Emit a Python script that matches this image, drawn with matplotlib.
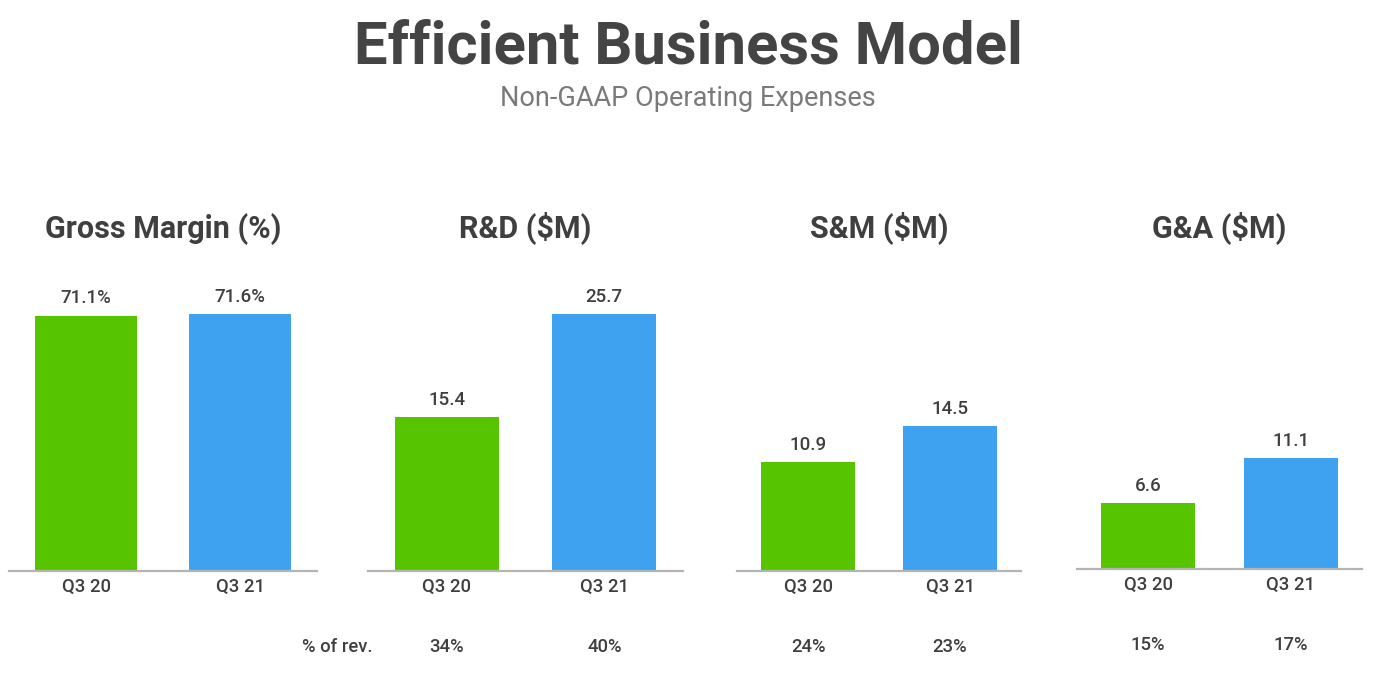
import numpy as np
import matplotlib.pyplot as plt

plt.rcParams['font.family'] = ['Roboto', 'DejaVu Sans']

#%% data

quarters = ['Q3 20', 'Q3 21']
panel_titles = ['Gross Margin (%)', 'R&D ($M)', 'S&M ($M)', 'G&A ($M)']
gross_margin = [71.1, 71.6]
rnd = [15.4, 25.7]
snm = [10.9, 14.5]
gna = [6.6, 11.1]
pct_rev_rnd = [34, 40]
pct_rev_snm = [24, 23]
pct_rev_gna = [15, 17]

#%% style

W, H = 1386, 688
GREEN = '#56c500'
BLUE = '#3fa2f1'
DARK = '#3f3f3f'
AXIS = '#b4b4b4'

# left, bottom, width, height in pixels
boxes = [(9, 117, 308, 300), (368, 117, 315, 300),
         (737, 117, 284, 300), (1077, 119, 285, 298)]

fig = plt.figure(figsize=(W / 100, H / 100), dpi=100)

series = [gross_margin, rnd, snm, gna]
revs = [None, pct_rev_rnd, pct_rev_snm, pct_rev_gna]
# ~3.59 px per % for margin, ~10 px per $M for the rest
px_per_unit = [3.59, 10, 10, 10]

for i, (vals, rev) in enumerate(zip(series, revs)):
    l, b, w, h = boxes[i]
    ax = fig.add_axes([l / W, b / H, w / W, h / H])
    x = np.arange(len(quarters))
    bars = ax.bar(x, vals, 0.66, color=[GREEN, BLUE])
    if i == 0:
        labels = ['%.1f%%' % v for v in vals]
    else:
        labels = ['%.1f' % v for v in vals]
    ax.bar_label(bars, labels=labels, padding=6, fontsize=13.5,
                 color=DARK, fontweight='medium')
    ax.set_xlim(-0.5, 1.5)
    ax.set_ylim(0, h / px_per_unit[i])
    ax.set_xticks(x)
    ax.set_xticklabels(quarters, fontsize=13.3, color=DARK, fontweight='medium')
    ax.tick_params(axis='x', length=0, pad=5)
    ax.set_yticks([])
    for s in ['left', 'right', 'top']:
        ax.spines[s].set_visible(False)
    ax.spines['bottom'].set_color(AXIS)
    ax.spines['bottom'].set_linewidth(1.6)
    ax.set_title(panel_titles[i], fontsize=22, fontweight='bold',
                 color=DARK, pad=24)
    if rev is not None:
        for xi, r in zip(x, rev):
            ax.annotate('%d%%' % r, xy=(xi, 0),
                        xycoords=('data', 'axes fraction'),
                        xytext=(0, -55), textcoords='offset points',
                        ha='center', va='center', fontsize=13.3,
                        color=DARK, fontweight='medium')

fig.text(337 / W, 1 - 647 / H, '% of rev.', ha='center', va='center',
         fontsize=13.3, color=DARK, fontweight='medium')

fig.text(688 / W, 1 - 47 / H, 'Efficient Business Model', ha='center',
         va='center', fontsize=43, fontweight='bold', color='#444444')
fig.text(688 / W, 1 - 99 / H, 'Non-GAAP Operating Expenses', ha='center',
         va='center', fontsize=19.5, color='#7a7a7a')

fig.savefig('out.png', dpi=100)
